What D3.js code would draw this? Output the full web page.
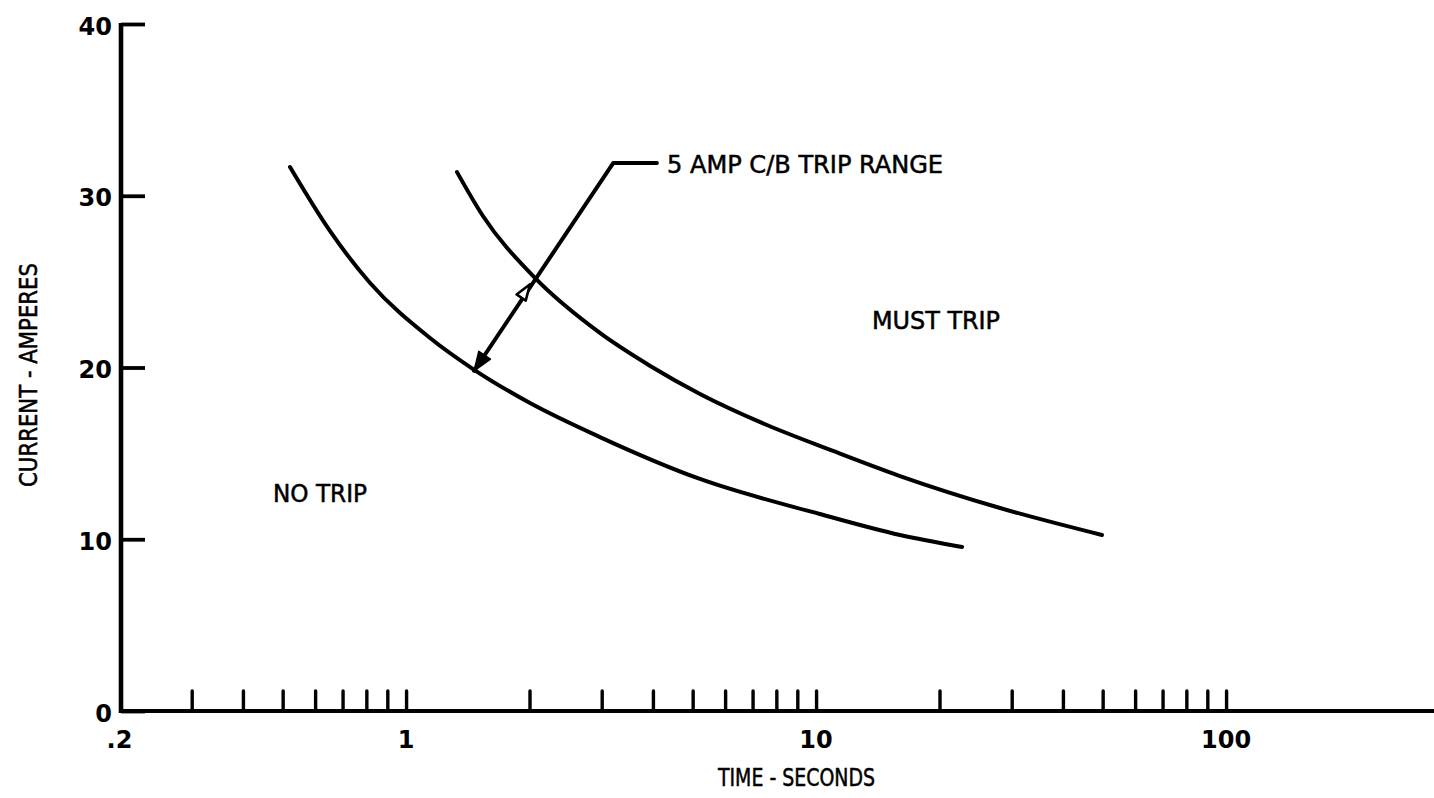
<!DOCTYPE html>
<html><head><meta charset="utf-8">
<script src="https://cdn.jsdelivr.net/npm/d3@7"></script>
<style>
body{margin:0;background:#fff;}
svg{display:block;}
</style>
</head><body>
<svg id="chart" width="1434" height="798"></svg>
<script>
// ---- data ----
const xMinorTicks = [0.3,0.4,0.5,0.6,0.7,0.8,0.9,1,2,3,4,5,6,7,8,9,10,20,30,40,50,60,70,80,90,100];
const xLabelValues = [0.2, 1, 10, 100];
const xLabelTexts = [".2", "1", "10", "100"];
const yTickValues = [0, 10, 20, 30, 40];
const yTickLabels = ["0", "10", "20", "30", "40"];

// lower curve (no-trip limit)
const lowerTime    = [0.521, 0.652, 0.817, 1.144, 1.457, 2.006, 2.97, 5.21, 10.22, 16.02, 22.7];
const lowerCurrent = [31.67, 27.95, 24.92, 21.72, 19.91, 17.93, 15.95, 13.51, 11.47, 10.25, 9.55];
// upper curve (must-trip limit)
const upperTime    = [1.331, 1.54, 2.04, 2.97, 3.94, 5.21, 7.59, 11.0, 16.02, 28.1, 49.8];
const upperCurrent = [31.38, 28.82, 25.33, 22.01, 20.09, 18.46, 16.65, 15.14, 13.68, 11.82, 10.25];

// annotation leader: horizontal end, bend, lower arrow tip; open arrow tip
const leaderTime    = [4.09, 3.2, 1.465];
const leaderCurrent = [31.9, 31.9, 19.8];
const openArrowTime = 2.006, openArrowCurrent = 24.85;

const annotationText = "5 AMP C/B TRIP RANGE";
const regionLabels = ["MUST TRIP", "NO TRIP"];
const xTitle = "TIME - SECONDS";
const yTitle = "CURRENT - AMPERES";

// ---- scales ----
const svg = d3.select("#chart");
const x0 = 119.5, decade = 410;
const x = d3.scaleLog().domain([0.2, 0.2 * Math.pow(10, (1434 - x0) / decade)]).range([x0, 1434]);
const y = d3.scaleLinear().domain([0, 40]).range([711, 24]);

const labelFont = "'DejaVu Sans Condensed', 'DejaVu Sans', sans-serif";
const tickFont = "'DejaVu Sans', sans-serif";

// ---- axes ----
const xAxis = d3.axisBottom(x).tickValues(xMinorTicks).tickSize(-20).tickFormat("");
const gx = svg.append("g").attr("transform", `translate(0,${y(0)})`).call(xAxis);
gx.select(".domain").remove();
gx.selectAll(".tick line").attr("stroke", "#000").attr("stroke-width", 3.4).attr("stroke-linecap", "round");

const yAxis = d3.axisLeft(y).tickValues(yTickValues).tickSize(-24).tickPadding(9)
  .tickFormat((d, i) => yTickLabels[i]);
const gy = svg.append("g").attr("transform", `translate(${x(0.2) + 1.5},0)`).call(yAxis);
gy.select(".domain").remove();
gy.selectAll(".tick line").attr("stroke", "#000").attr("stroke-width", 3.8);
gy.selectAll(".tick text")
  .attr("font-family", tickFont).attr("font-weight", "bold").attr("font-size", 24)
  .attr("fill", "#000").attr("dy", "0.42em");

svg.append("line").attr("x1", x(0.2)).attr("x2", 1434).attr("y1", y(0)).attr("y2", y(0))
  .attr("stroke", "#000").attr("stroke-width", 4.2);
svg.append("line").attr("x1", x(0.2) + 1.5).attr("x2", x(0.2) + 1.5).attr("y1", y(40) - 1).attr("y2", y(0) + 2)
  .attr("stroke", "#000").attr("stroke-width", 4.6);

svg.append("g").selectAll("text").data(xLabelValues).join("text")
  .attr("x", d => x(d)).attr("y", 748)
  .attr("text-anchor", "middle")
  .attr("font-family", tickFont).attr("font-weight", "bold").attr("font-size", 24)
  .text((d, i) => xLabelTexts[i]);

// ---- curves ----
const line = d3.line().x(d => x(d[0])).y(d => y(d[1])).curve(d3.curveMonotoneX);
const lowerPts = lowerTime.map((t, i) => [t, lowerCurrent[i]]);
const upperPts = upperTime.map((t, i) => [t, upperCurrent[i]]);
[lowerPts, upperPts].forEach(p => {
  svg.append("path").attr("d", line(p)).attr("fill", "none")
    .attr("stroke", "#000").attr("stroke-width", 4).attr("stroke-linecap", "round").attr("stroke-linejoin", "round");
});

// ---- annotation leader ----
const leaderPts = leaderTime.map((t, i) => [x(t), y(leaderCurrent[i])]);
svg.append("path").attr("d", d3.line()(leaderPts)).attr("fill", "none")
  .attr("stroke", "#000").attr("stroke-width", 4).attr("stroke-linejoin", "round").attr("stroke-linecap", "round");

const tip = leaderPts[2], bend = leaderPts[1];
const ang = Math.atan2(tip[1] - bend[1], tip[0] - bend[0]);
function arrowHead(px, py, a, len, half) {
  const bx = px - len * Math.cos(a), by = py - len * Math.sin(a);
  const nx = -Math.sin(a), ny = Math.cos(a);
  return [[px, py], [bx + half * nx, by + half * ny], [bx - half * nx, by - half * ny]];
}
svg.append("path").attr("d", d3.line()(arrowHead(tip[0], tip[1], ang, 19, 7)) + "Z")
  .attr("fill", "#000").attr("stroke", "#000").attr("stroke-width", 1.5).attr("stroke-linejoin", "round");
const ot = [x(openArrowTime), y(openArrowCurrent)];
svg.append("path").attr("d", d3.line()(arrowHead(ot[0], ot[1], ang + Math.PI, 16, 5.5)) + "Z")
  .attr("fill", "#fff").attr("stroke", "#000").attr("stroke-width", 2.6).attr("stroke-linejoin", "round");

// ---- texts ----
function label(txt, xx, yy, len, rot) {
  const t = svg.append("text").attr("font-family", labelFont).attr("font-size", 25).attr("fill", "#000")
    .attr("stroke", "#000").attr("stroke-width", 0.5)
    .attr("textLength", len).attr("lengthAdjust", "spacingAndGlyphs").text(txt);
  if (rot) {
    t.attr("text-anchor", "middle").attr("transform", `translate(${xx},${yy}) rotate(-90)`);
  } else {
    t.attr("x", xx).attr("y", yy);
  }
  return t;
}
label(annotationText, 667, 173, 276);
label(regionLabels[0], 872, 329, 128);
label(regionLabels[1], 273, 502, 94);
label(xTitle, 718, 786, 157);
label(yTitle, 37, 375, 224, true);
</script>
</body></html>
